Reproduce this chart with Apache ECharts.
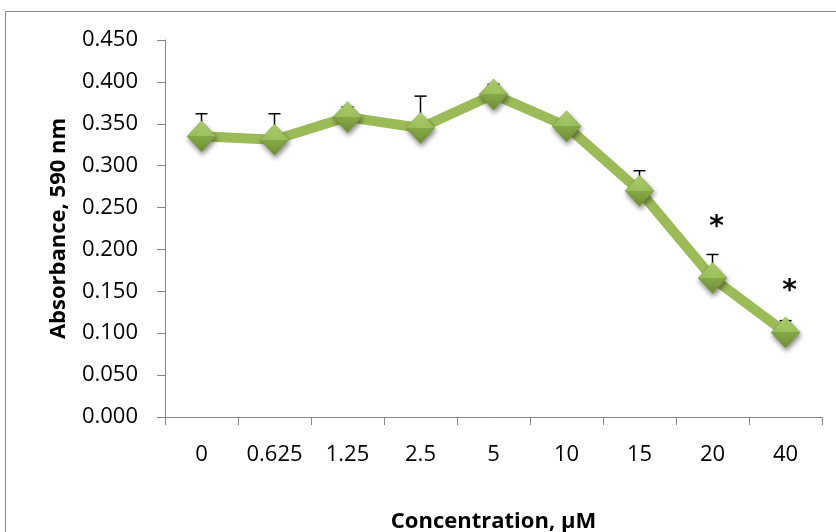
<!DOCTYPE html>
<html>
<head>
<meta charset="utf-8">
<script src="https://cdn.jsdelivr.net/npm/echarts@6/dist/echarts.min.js"></script>
<style>
html,body{margin:0;padding:0;background:#fff;}
#chart{width:836px;height:532px;}
#frame{position:absolute;left:5px;top:11px;width:900px;height:600px;border:1px solid #888;box-sizing:border-box;pointer-events:none;}
</style>
</head>
<body>
<div id="chart"></div>
<div id="frame"></div>
<script>
var categories = ['0', '0.625', '1.25', '2.5', '5', '10', '15', '20', '40'];
var absorbance = [0.335, 0.331, 0.358, 0.345, 0.385, 0.347, 0.270, 0.166, 0.101];
var errorUp = [0.027, 0.031, 0.012, 0.038, 0.012, 0.010, 0.024, 0.028, 0.014];
var significance = ['', '', '', '', '', '', '', '*', '*'];
var starLevels = [null, null, null, null, null, null, null, 0.226, 0.150];
var yTicks = { min: 0, max: 0.45, interval: 0.05 };

var chart = echarts.init(document.getElementById('chart'), null, { renderer: 'canvas' });
var FONT = 'Open Sans';

var errData = categories.map(function (c, i) { return [i, absorbance[i], errorUp[i]]; });
var starData = [];
categories.forEach(function (c, i) {
  if (starLevels[i] != null) starData.push([i, starLevels[i], significance[i]]);
});

var option = {
  animation: false,
  backgroundColor: '#fff',
  grid: { left: 165, right: 14, top: 40, bottom: 115, containLabel: false, outerBoundsMode: 'none' },
  xAxis: {
    type: 'category',
    data: categories,
    boundaryGap: true,
    name: 'Concentration, µM',
    nameLocation: 'middle',
    nameGap: 94,
    nameTextStyle: { fontFamily: FONT, fontWeight: 'bold', fontSize: 22, color: '#000' },
    axisLine: { show: true, lineStyle: { color: '#868686', width: 1 } },
    axisTick: { show: true, length: 8, alignWithLabel: false, lineStyle: { color: '#868686' } },
    axisLabel: { margin: 27, fontFamily: FONT, fontSize: 22, color: '#000' },
    splitLine: { show: false }
  },
  yAxis: {
    type: 'value',
    min: yTicks.min, max: yTicks.max, interval: yTicks.interval,
    name: 'Absorbance, 590 nm',
    nameLocation: 'middle',
    nameRotate: 90,
    nameGap: 95,
    nameTextStyle: { fontFamily: FONT, fontWeight: 'bold', fontSize: 22, color: '#000' },
    axisLine: { show: true, lineStyle: { color: '#868686', width: 1 } },
    axisTick: { show: true, length: 8, lineStyle: { color: '#868686' } },
    axisLabel: { margin: 27, fontFamily: FONT, fontSize: 22, color: '#000',
      formatter: function (v) { return v.toFixed(3); } },
    splitLine: { show: false }
  },
  series: [
    {
      type: 'custom',
      z: 1,
      data: errData,
      renderItem: function (params, api) {
        var i = api.value(0), m = api.value(1), e = api.value(2);
        var p0 = api.coord([i, m]);
        var p1 = api.coord([i, m + e]);
        var w = 6;
        return {
          type: 'group',
          children: [
            { type: 'line', shape: { x1: p0[0], y1: p0[1], x2: p1[0], y2: p1[1] }, style: { stroke: '#000', lineWidth: 1.5 } },
            { type: 'line', shape: { x1: p1[0] - w, y1: p1[1], x2: p1[0] + w, y2: p1[1] }, style: { stroke: '#000', lineWidth: 1.5 } }
          ]
        };
      }
    },
    {
      type: 'line',
      z: 2,
      data: absorbance,
      lineStyle: { color: '#9BBB59', width: 10 },
      symbol: 'diamond',
      symbolSize: [29, 31],
      showAllSymbol: true,
      itemStyle: {
        color: new echarts.graphic.LinearGradient(0, 0, 0, 1, [
          { offset: 0, color: '#b0d274' },
          { offset: 0.5, color: '#9cc15a' },
          { offset: 0.5, color: '#86a947' },
          { offset: 1, color: '#6f8f35' }
        ]),
        borderColor: '#7a9a3e',
        borderWidth: 0.5,
        shadowColor: 'rgba(0,0,0,0.45)',
        shadowBlur: 5,
        shadowOffsetX: 1,
        shadowOffsetY: 3
      }
    },
    {
      type: 'custom',
      z: 3,
      data: starData,
      renderItem: function (params, api) {
        var p = api.coord([api.value(0), api.value(1)]);
        return {
          type: 'text',
          x: p[0] + 4,
          y: p[1],
          style: {
            text: starData[params.dataIndex][2],
            fontFamily: 'DejaVu Sans',
            fontWeight: 'bold',
            fontSize: 28,
            fill: '#000',
            align: 'center',
            verticalAlign: 'middle'
          }
        };
      }
    }
  ]
};
chart.setOption(option);
</script>
</body>
</html>
